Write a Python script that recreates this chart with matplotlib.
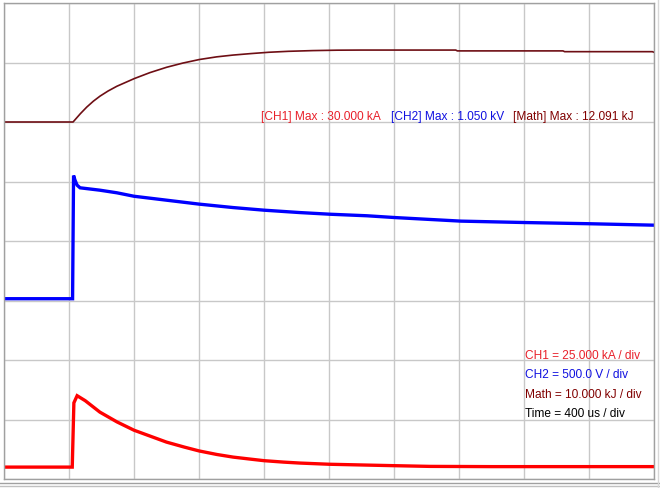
import matplotlib.pyplot as plt
import matplotlib.lines as mlines

# scope settings (per division) and trace offsets (in divisions from bottom)
time_per_div = 400.0      # us / div
ch1_per_div = 25.0        # kA / div
ch2_per_div = 500.0       # V / div
math_per_div = 10.0       # kJ / div
ch1_offset = 0.2
ch2_offset = 3.0
math_offset = 6.0

# CH1 current (kA)
ch1_t = [0, 420, 430, 450, 500, 590, 695, 800, 900, 1000, 1110, 1200, 1310,
         1410, 1510, 1600, 1720, 1820, 2000, 2230, 2400, 2620, 3000, 4000]
ch1_kA = [0.0, 0.0, 27.0, 30.0, 27.9, 23.1, 19.0, 15.5, 13.0, 10.5, 8.4, 6.8, 5.3,
          4.2, 3.4, 2.7, 2.1, 1.7, 1.2, 0.85, 0.6, 0.3, 0.2, 0.2]

# CH2 voltage (V)
ch2_t = [0, 422, 428, 437, 450, 468, 590, 695, 800, 1000, 1200, 1410, 1600,
         1820, 2006, 2234, 2406, 2622, 2812, 3212, 3606, 4000]
ch2_V = [15, 15, 1050, 1011, 969, 947, 927, 905, 876, 843, 810, 781, 759,
         739, 725, 712, 697, 681, 667, 655, 645, 633]

# Math = energy (kJ)
math_t = [0, 425, 470, 509, 550, 591, 640, 694, 802, 898, 1001, 1100, 1202, 1309,
          1410, 1520, 1630, 1750, 1900, 2050, 2200, 2780, 2790, 3440, 3450, 3990, 4000]
math_kJ = [0.0, 0.0, 1.4, 2.5, 3.5, 4.35, 5.2, 6.0, 7.3, 8.3, 9.2, 9.9, 10.5, 10.95,
           11.25, 11.5, 11.72, 11.88, 12.0, 12.07, 12.09, 12.09, 11.95, 11.95, 11.82, 11.82, 11.72]

red = '#ff0000'
blue = '#0000ff'
maroon = '#6e0e14'

fig = plt.figure(figsize=(6.6, 4.89), dpi=100)
ax = fig.add_axes([4 / 660, 9 / 489, 650 / 660, 476 / 489])

ax.plot([t / time_per_div for t in ch1_t], [ch1_offset + v / ch1_per_div for v in ch1_kA],
        color=red, lw=2.4, solid_joinstyle='miter')
ax.plot([t / time_per_div for t in ch2_t], [ch2_offset + v / ch2_per_div for v in ch2_V],
        color=blue, lw=2.4, solid_joinstyle='miter')
ax.plot([t / time_per_div for t in math_t], [math_offset + v / math_per_div for v in math_kJ],
        color=maroon, lw=1.2)

ax.set_xlim(0, 10)
ax.set_ylim(0, 8)
ax.set_xticks(range(11))
ax.set_yticks(range(9))
ax.tick_params(length=0, labelbottom=False, labelleft=False)
ax.grid(True, color='#c8c8c8', lw=1.0)
ax.set_axisbelow(True)
for s in ax.spines.values():
    s.set_color('#a0a0a0')
    s.set_linewidth(1.0)

fs = 8.6
fam = ['Liberation Sans', 'DejaVu Sans']

# max readouts (positions given in screen pixels, converted to divisions)
ax.text((261 - 4) / 65, (480 - 117) / 59.5, '[CH1] Max : 30.000 kA', color='#e8202a',
        fontsize=fs, family=fam, va='center')
ax.text((391 - 4) / 65, (480 - 117) / 59.5, '[CH2] Max : 1.050 kV', color='#1010e0',
        fontsize=fs, family=fam, va='center')
ax.text((513 - 4) / 65, (480 - 117) / 59.5, '[Math] Max : 12.091 kJ', color='#800000',
        fontsize=fs, family=fam, va='center')

# scale readouts
labels = ['CH1 = 25.000 kA / div', 'CH2 = 500.0 V / div', 'Math = 10.000 kJ / div', 'Time = 400 us / div']
colors = ['#e8202a', '#1010e0', '#800000', '#000000']
for i, (lab, c) in enumerate(zip(labels, colors)):
    ax.text((525 - 4) / 65, (480 - 356 - 19.5 * i) / 59.5, lab, color=c,
            fontsize=fs, family=fam, va='center')

# outer window border
fig.add_artist(mlines.Line2D([0, 1], [5 / 489, 5 / 489], color='#a0a0a0', lw=1.0))
fig.add_artist(mlines.Line2D([0, 1], [2 / 489, 2 / 489], color='#c0c0c0', lw=1.0))
fig.add_artist(mlines.Line2D([658 / 660, 658 / 660], [0, 1], color='#d8d8d8', lw=1.0))

fig.savefig('out.png', dpi=100, facecolor='white')
